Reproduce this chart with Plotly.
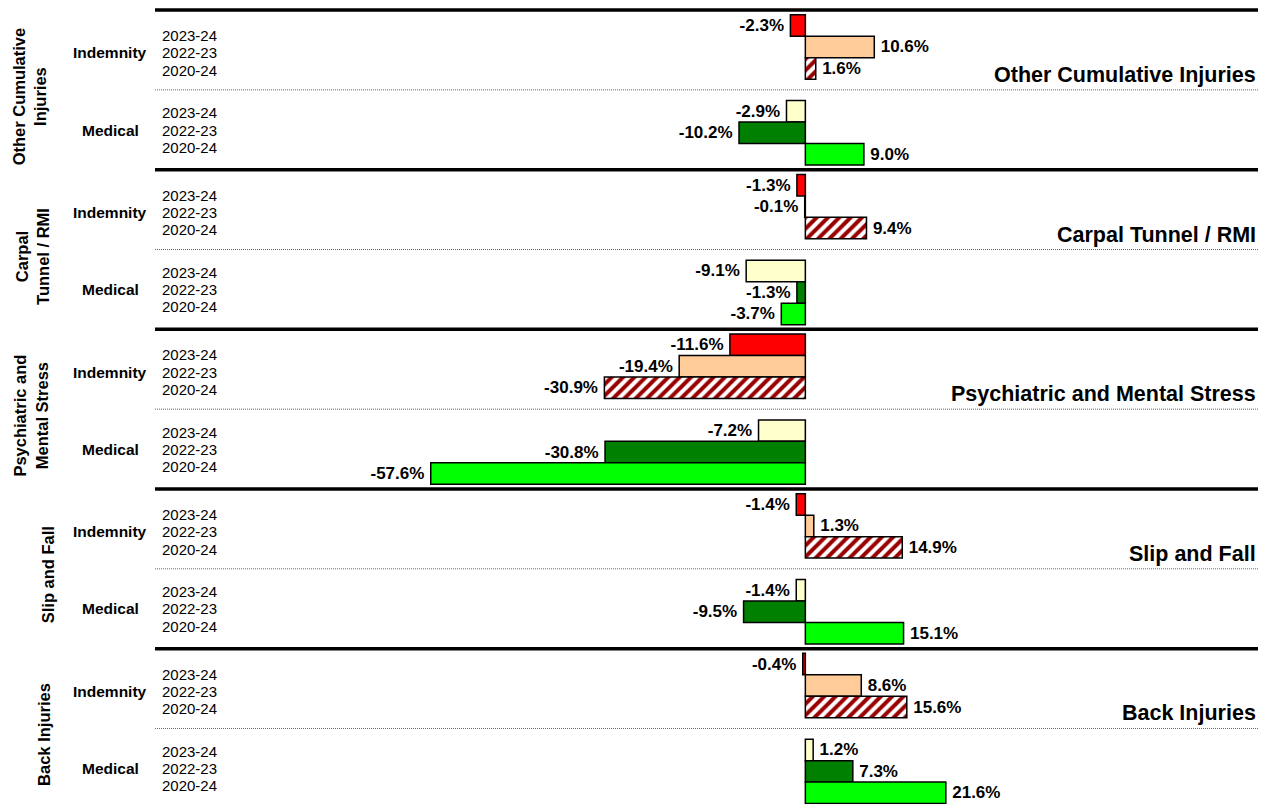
"""Year-over-year changes in indemnity and medical costs by injury type."""

import plotly.graph_objects as go

# ---- data -----------------------------------------------------------------
groups = [
    "Other Cumulative Injuries",
    "Carpal Tunnel / RMI",
    "Psychiatric and Mental Stress",
    "Slip and Fall",
    "Back Injuries",
]
side_labels = [
    "Other Cumulative<br>Injuries",
    "Carpal<br>Tunnel / RMI",
    "Psychiatric and<br>Mental Stress",
    "Slip and Fall",
    "Back Injuries",
]
cost_types = ["Indemnity", "Medical"]
periods = ["2023-24", "2022-23", "2020-24"]

indemnity_2023_24 = [-2.3, -1.3, -11.6, -1.4, -0.4]
indemnity_2022_23 = [10.6, -0.1, -19.4, 1.3, 8.6]
indemnity_2020_24 = [1.6, 9.4, -30.9, 14.9, 15.6]
medical_2023_24 = [-2.9, -9.1, -7.2, -1.4, 1.2]
medical_2022_23 = [-10.2, -1.3, -30.8, -9.5, 7.3]
medical_2020_24 = [9.0, -3.7, -57.6, 15.1, 21.6]

# ---- layout helpers ---------------------------------------------------------
FONT = "Liberation Sans, Arial, sans-serif"
PERIOD = 7.44          # rows per injury group
SUB_START = [0, 4]     # first row of indemnity / medical block
PAGE_PAD = 8           # browser body margin around the plot div
WIDTH, HEIGHT = 1270 - PAGE_PAD, 804 - PAGE_PAD
LEFT, RIGHT = 155 - PAGE_PAD, 12
PLOT_W = WIDTH - LEFT - RIGHT
GAP = "\u2009"         # thin space between bar end and its label


def px_to_paper(px):
    # px measured on the page, including the body margin
    return (px - PAGE_PAD - LEFT) / PLOT_W


def rows(sub, k):
    return [g * PERIOD + SUB_START[sub] + k for g in range(len(groups))]


def bar_text(vals):
    return [f"{v:.1f}%{GAP}" if v < 0 else f"{GAP}{v:.1f}%" for v in vals]


series = [
    (0, 0, indemnity_2023_24, dict(color="#FF0000")),
    (0, 1, indemnity_2022_23, dict(color="#FFCC99")),
    (0, 2, indemnity_2020_24, dict(color="white", pattern=dict(
        shape="/", fgcolor="#990000", bgcolor="white", fillmode="replace",
        size=8, solidity=0.5))),
    (1, 0, medical_2023_24, dict(color="#FFFFCC")),
    (1, 1, medical_2022_23, dict(color="#008000")),
    (1, 2, medical_2020_24, dict(color="#00FF00")),
]

fig = go.Figure()
for sub, k, vals, marker in series:
    marker = dict(marker, line=dict(color="black", width=1.5))
    fig.add_trace(go.Bar(
        x=vals,
        y=rows(sub, k),
        orientation="h",
        width=1.0,
        marker=marker,
        name=f"{cost_types[sub]} {periods[k]}",
        text=bar_text(vals),
        textposition="outside",
        constraintext="none",
        cliponaxis=False,
        textfont=dict(family=FONT, size=17, color="black", weight="bold"),
    ))

shapes = []
annotations = []
side_x = [29, 33, 31, 48, 44]
for g, name in enumerate(groups):
    base = g * PERIOD
    shapes.append(dict(type="line", xref="paper", x0=0, x1=1,
                       y0=base - 0.72, y1=base - 0.72,
                       line=dict(color="black", width=3.5)))
    shapes.append(dict(type="line", xref="paper", x0=0, x1=1,
                       y0=base + 3.0, y1=base + 3.0,
                       line=dict(color="#666666", width=1, dash="1px,1px")))
    # right-hand group title
    annotations.append(dict(xref="paper", x=1, xanchor="right", y=base + 2.3,
                            yanchor="middle", text=f"<b>{name}</b>", showarrow=False,
                            font=dict(family=FONT, size=21.5, color="black")))
    # rotated group label on the far left
    annotations.append(dict(xref="paper", x=px_to_paper(side_x[g]), xanchor="center",
                            y=base + 3.3, yanchor="middle", textangle=-90,
                            text=f"<b>{side_labels[g]}</b>", showarrow=False,
                            font=dict(family=FONT, size=16.5, color="black")))
    for sub, centre in ((0, 1.28), (1, 4.87)):
        annotations.append(dict(xref="paper", x=px_to_paper(110), xanchor="center",
                                y=base + centre, yanchor="middle",
                                text=f"<b>{cost_types[sub]}</b>", showarrow=False,
                                font=dict(family=FONT, size=15.5, color="black")))
        for k, label in enumerate(periods):
            annotations.append(dict(xref="paper", x=px_to_paper(160), xanchor="left",
                                    y=base + centre, yanchor="middle",
                                    yshift=17.3 * (1 - k), text=label, showarrow=False,
                                    font=dict(family=FONT, size=15, color="black")))

fig.update_layout(
    width=WIDTH,
    height=HEIGHT,
    margin=dict(l=LEFT, r=RIGHT, t=0, b=0),
    barmode="overlay",
    showlegend=False,
    plot_bgcolor="white",
    paper_bgcolor="white",
    shapes=shapes,
    annotations=annotations,
    font=dict(family=FONT),
)
fig.update_xaxes(range=[-100, 69.6], showgrid=False, zeroline=False,
                 showticklabels=False, ticks="")
fig.update_yaxes(range=[36.28, -0.8155], showgrid=False, zeroline=False,
                 showticklabels=False, ticks="")

fig.write_html("out.html")
